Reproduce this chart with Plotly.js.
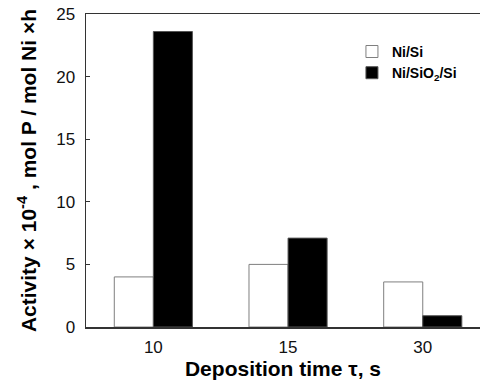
<!DOCTYPE html>
<html>
<head>
<meta charset="utf-8">
<script src="https://cdn.plot.ly/plotly-3.0.1.min.js"></script>
<style>html,body{margin:0;padding:0;background:#fff;}#chart{width:480px;height:384px;}</style>
</head>
<body>
<div id="chart"></div>
<script>
const categories = ['10', '15', '30'];
const seriesNames = ['Ni/Si', 'Ni/SiO<sub>2</sub>/Si'];
const niSi = [4.0, 5.0, 3.6];
const niSiO2Si = [23.6, 7.1, 0.9];
const yTicks = [0, 5, 10, 15, 20, 25];

const FONT = 'Liberation Sans, Arial, sans-serif';

const traces = [
  {
    type: 'bar', x: categories, y: niSi, name: seriesNames[0], legendgroup: 'a',
    marker: {color: '#ffffff', line: {color: '#7f7f7f', width: 1}}
  },
  {
    type: 'bar', x: categories, y: niSiO2Si, name: seriesNames[1], legendgroup: 'b',
    marker: {color: '#000000', line: {color: '#555555', width: 1}}
  }
];

const layout = {
  width: 480, height: 384,
  margin: {l: 86, r: 0, t: 14, b: 57, pad: 0},
  paper_bgcolor: '#fff', plot_bgcolor: '#fff',
  barmode: 'group', bargap: 0.42, bargroupgap: 0,
  font: {family: FONT, color: '#111'},
  showlegend: true,
  legend: {
    x: 0.675, y: 0.93, xanchor: 'left', yanchor: 'top',
    bgcolor: 'rgba(0,0,0,0)', borderwidth: 0,
    font: {family: FONT, size: 14, color: '#000', weight: 'bold'},
    traceorder: 'normal', tracegroupgap: 9
  },
  xaxis: {
    type: 'category', range: [-0.5, 2.425],
    showline: true, linecolor: '#333', linewidth: 1.5, mirror: true,
    ticks: '', showgrid: false, zeroline: false,
    tickfont: {family: FONT, size: 17, color: '#111'},
    ticklabelstandoff: 4,
    title: {text: 'Deposition time τ, s', font: {family: FONT, size: 21, color: '#000', weight: 'bold'}, standoff: 5}
  },
  yaxis: {
    range: [0, 25], tickvals: yTicks, ticktext: yTicks.map(String),
    showline: true, linecolor: '#333', linewidth: 1.5, mirror: false,
    ticks: 'inside', ticklen: 4, tickwidth: 1.2, tickcolor: '#333',
    showgrid: false, zeroline: false,
    tickfont: {family: FONT, size: 17, color: '#111'},
    ticklabelstandoff: 6,
    title: {text: 'Activity × 10<sup>-4</sup> , mol P / mol Ni ×h', font: {family: FONT, size: 21, color: '#000', weight: 'bold'}, standoff: 14}
  }
};

Plotly.newPlot('chart', traces, layout, {displayModeBar: false, staticPlot: true});
</script>
</body>
</html>
